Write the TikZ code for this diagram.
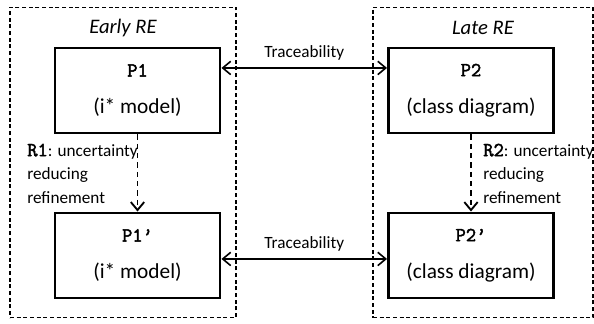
\documentclass[tikz,border=0pt]{standalone}
\usepackage{fontspec}
\setmainfont{Carlito}
\newfontfamily\pmono[FakeBold=2.2]{Latin Modern Mono}
\usetikzlibrary{arrows.meta,positioning}
\newcommand\pname[1]{{\pmono\fontsize{15}{17}\selectfont #1}}

\begin{document}
\begin{tikzpicture}[x=0.75pt,y=-0.75pt,
    phase/.style={draw, dash pattern=on 3pt off 2pt, line width=0.8pt,
      minimum height=233pt, inner sep=0pt},
    phaselabel/.style={font=\fontsize{15.5}{18}\selectfont\itshape},
    model/.style={draw, line width=2.2pt, minimum width=123.75pt,
      minimum height=63.75pt, align=center, inner sep=0pt,
      font=\fontsize{16}{19}\selectfont},
    trace/.style={{Straight Barb[length=6pt,width=10pt]}-{Straight Barb[length=6pt,width=10pt]},
      line width=1.2pt},
    refine/.style={-{Straight Barb[length=6pt,width=10pt]}, line width=1.4pt,
      dash pattern=on 4pt off 3pt},
    note/.style={font=\fontsize{12.9}{17.6}\selectfont, align=left, anchor=west, inner sep=0pt}]
  \useasboundingbox (0,0) rectangle (594,324);

  \node[phase, minimum width=169.5pt] (early) at (123,162.5) {};
  \node[phase, minimum width=165pt] (late) at (483,162.5) {};
  \node[phaselabel] (earlylab) at ([yshift=-15.8pt]early.north) {Early RE};
  \node[phaselabel] (latelab) at ([yshift=-15.8pt]late.north) {Late RE};

  \node[model] (p1) at (137.5,90.5) {\pname{P1}\\[9pt](i* model)};
  \node[model] (p2) at (471,90.5) {\pname{P2}\\[9pt](class diagram)};
  \node[model] (p1r) at (137.5,255.5) {\pname{P1’}\\[9pt](i* model)};
  \node[model] (p2r) at (471,255.5) {\pname{P2’}\\[9pt](class diagram)};

  \draw[trace] ([yshift=16.9pt]p1.east) -- node[midway, above=2pt, font=\fontsize{12.9}{15}\selectfont] (tr1) {Traceability} ([yshift=16.9pt]p2.west);
  \draw[trace] ([yshift=-2.6pt]p1r.east) -- node[midway, above=2pt, font=\fontsize{12.9}{15}\selectfont] (tr2) {Traceability} ([yshift=-2.6pt]p2r.west);

  \draw[refine] (p1.south) -- (p1r.north);
  \draw[refine] (p2.south) -- (p2r.north);
  \node[note] (r1lab) at (27,173.5) {\pname{R1}: uncertainty\\reducing\\refinement};
  \node[note] (r2lab) at (483,173.5) {\pname{R2}: uncertainty\\reducing\\refinement};
\end{tikzpicture}
\end{document}
